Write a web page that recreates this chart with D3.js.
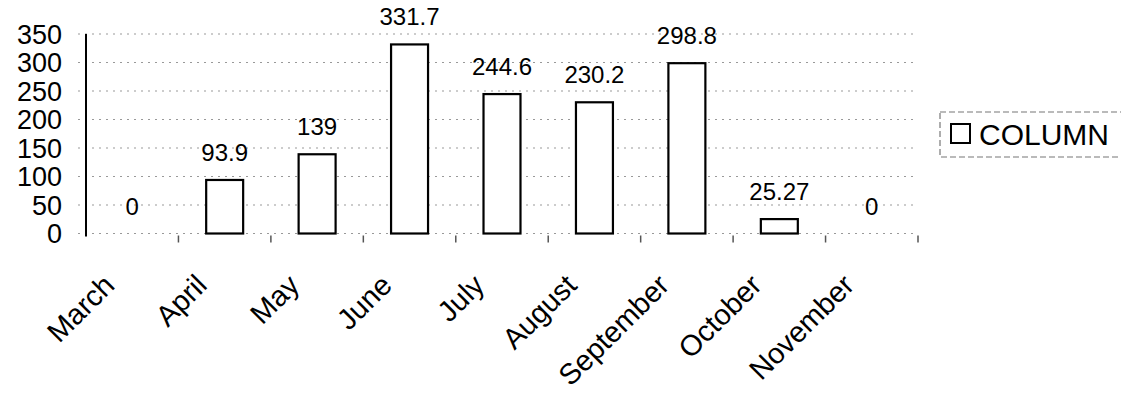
<!DOCTYPE html>
<html>
<head>
<meta charset="utf-8">
<script src="https://cdn.jsdelivr.net/npm/d3@7"></script>
<style>
  body { margin: 0; background: #fff; }
  svg { display: block; font-family: "Liberation Sans", Arial, sans-serif; }
</style>
</head>
<body>
<div id="chart"></div>
<script>
// data
const months = ["March", "April", "May", "June", "July", "August", "September", "October", "November"];
const columnValues = [0, 93.9, 139, 331.7, 244.6, 230.2, 298.8, 25.27, 0];
const valueLabels = ["0", "93.9", "139", "331.7", "244.6", "230.2", "298.8", "25.27", "0"];
const yTicks = [0, 50, 100, 150, 200, 250, 300, 350];
const seriesName = "COLUMN";

const width = 1121, height = 396;
const plot = {left: 86, right: 918, top: 34, bottom: 233.5};

let svg = d3.select("#chart").append("svg")
  .attr("width", width)
  .attr("height", height);

let x = d3.scaleBand()
  .domain(months)
  .range([plot.left, plot.right])
  .paddingInner(0.6)
  .paddingOuter(0.3);

let y = d3.scaleLinear()
  .domain([0, 350])
  .range([plot.bottom, plot.top]);

/* faint dotted grid lines, like the scanned Excel chart */
svg.append("g").selectAll("line")
  .data(yTicks)
  .enter().append("line")
  .attr("x1", plot.left - 8)
  .attr("x2", plot.right - 3)
  .attr("y1", d => y(d))
  .attr("y2", d => y(d))
  .attr("stroke", "#999")
  .attr("stroke-width", 1)
  .attr("stroke-dasharray", "2,5");

/* y axis labels */
svg.append("g").selectAll("text")
  .data(yTicks)
  .enter().append("text")
  .attr("x", 62)
  .attr("y", d => y(d))
  .attr("dy", "0.36em")
  .attr("text-anchor", "end")
  .style("font-size", "27px")
  .attr("fill", "#000")
  .text(d => d);

/* y axis line */
svg.append("line")
  .attr("x1", plot.left).attr("x2", plot.left)
  .attr("y1", plot.top).attr("y2", plot.bottom + 3)
  .attr("stroke", "#000")
  .attr("stroke-width", 2);

/* x axis ticks between categories */
let step = x.step();
svg.append("g").selectAll("line")
  .data(months)
  .enter().append("line")
  .attr("x1", d => x(d) - x.bandwidth() * 0.75 + step)
  .attr("x2", d => x(d) - x.bandwidth() * 0.75 + step)
  .attr("y1", plot.bottom + 2)
  .attr("y2", plot.bottom + 9)
  .attr("stroke", "#555")
  .attr("stroke-width", 1.5);

/* bars */
svg.append("g").selectAll("rect")
  .data(columnValues)
  .enter().append("rect")
  .attr("x", (d, i) => x(months[i]))
  .attr("y", d => y(d))
  .attr("width", x.bandwidth())
  .attr("height", d => y(0) - y(d))
  .attr("fill", "#fff")
  .attr("stroke", d => d > 0 ? "#000" : "none")
  .attr("stroke-width", 2.2);

/* value labels */
svg.append("g").selectAll("text")
  .data(columnValues)
  .enter().append("text")
  .attr("x", (d, i) => x(months[i]) + x.bandwidth() / 2)
  .attr("y", d => y(d) - 19)
  .attr("text-anchor", "middle")
  .style("font-size", "24px")
  .attr("fill", "#000")
  .text((d, i) => valueLabels[i]);

/* rotated month labels */
svg.append("g").selectAll("text")
  .data(months)
  .enter().append("text")
  .attr("text-anchor", "end")
  .attr("transform", d => "translate(" + (x(d) + x.bandwidth() / 2 - 16) + ",287) rotate(-45)")
  .style("font-size", "29px")
  .attr("fill", "#000")
  .text(d => d);

/* legend */
let legend = svg.append("g").attr("class", "legend");
legend.append("rect")
  .attr("x", 940).attr("y", 112)
  .attr("width", 260).attr("height", 45)
  .attr("fill", "none")
  .attr("stroke", "#777")
  .attr("stroke-width", 1.2)
  .attr("stroke-dasharray", "6,3");
legend.append("rect")
  .attr("x", 951).attr("y", 124)
  .attr("width", 19).attr("height", 19)
  .attr("fill", "#fff")
  .attr("stroke", "#000")
  .attr("stroke-width", 2);
legend.append("text")
  .attr("x", 979).attr("y", 145)
  .style("font-size", "30px")
  .attr("fill", "#000")
  .text(seriesName);
</script>
</body>
</html>
